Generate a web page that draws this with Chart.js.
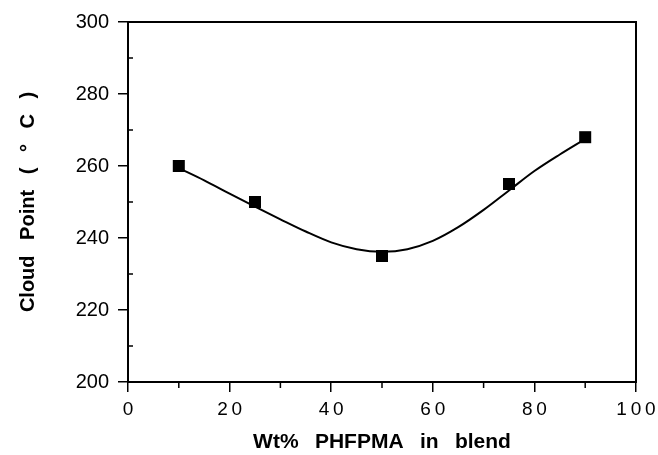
<!DOCTYPE html>
<html>
<head>
<meta charset="utf-8">
<script src="https://cdn.jsdelivr.net/npm/chart.js@4/dist/chart.umd.min.js"></script>
<style>
  html, body { margin: 0; padding: 0; background: #fff; }
  #wrap { width: 658px; height: 455px; }
</style>
</head>
<body>
<div id="wrap"><canvas id="cloudChart"></canvas></div>
<script>
// measured cloud points
const wtPct = [10, 25, 50, 75, 90];
const cloudPt = [260, 250, 235, 255, 268];

// smooth fitted curve
const curveX = [10, 15, 20, 25, 30, 35, 40, 45, 50, 55, 60, 65, 70, 75, 80, 85, 90];
const curveY = [259.4, 256.0, 252.3, 248.7, 245.2, 241.8, 238.8, 236.9, 236.2, 236.9, 239.2, 243.0, 247.8, 253.2, 258.6, 263.2, 267.5];

const xTicks = [0, 20, 40, 60, 80, 100];
const yTicks = [200, 220, 240, 260, 280, 300];

const FONT = '"Liberation Sans", Arial, Helvetica, sans-serif';

// frame + minor ticks, placed through the scales
const framePlugin = {
  id: 'frame',
  afterDraw(chart) {
    const { ctx, chartArea: a, scales } = chart;
    ctx.save();
    ctx.strokeStyle = '#000';
    ctx.lineWidth = 2;
    ctx.strokeRect(a.left, a.top, a.right - a.left, a.bottom - a.top);
    ctx.lineWidth = 1.5;
    ctx.beginPath();
    for (let v = 210; v < 300; v += 20) {
      const y = scales.y.getPixelForValue(v);
      ctx.moveTo(a.left, y);
      ctx.lineTo(a.left + 5, y);
    }
    for (let v = 10; v < 100; v += 20) {
      const x = scales.x.getPixelForValue(v);
      ctx.moveTo(x, a.bottom);
      ctx.lineTo(x, a.bottom + 6);
    }
    ctx.stroke();
    ctx.restore();
  }
};

new Chart(document.getElementById('cloudChart'), {
  type: 'scatter',
  data: {
    datasets: [
      {
        label: 'fit',
        data: curveX.map((x, i) => ({ x: x, y: curveY[i] })),
        showLine: true,
        cubicInterpolationMode: 'monotone',
        borderColor: '#000',
        borderWidth: 2,
        pointRadius: 0,
        order: 2
      },
      {
        label: 'Cloud point',
        data: wtPct.map((x, i) => ({ x: x, y: cloudPt[i] })),
        pointStyle: 'rect',
        pointRadius: 8.5,
        pointHoverRadius: 8.5,
        backgroundColor: '#000',
        borderColor: '#000',
        borderWidth: 0,
        order: 1
      }
    ]
  },
  options: {
    responsive: true,
    maintainAspectRatio: false,
    animation: false,
    layout: { padding: { top: 22, right: 22, left: 0, bottom: 0 } },
    plugins: {
      legend: { display: false },
      tooltip: { enabled: false }
    },
    scales: {
      x: {
        type: 'linear',
        min: 0,
        max: 100,
        afterBuildTicks: s => { s.ticks = xTicks.map(v => ({ value: v })); },
        afterFit: s => { s.height = 73; s.paddingRight = 0; s.paddingLeft = 0; },
        border: { color: '#000', width: 2 },
        grid: { drawOnChartArea: false, color: '#000', lineWidth: 1.5, tickLength: 10 },
        ticks: {
          color: '#000',
          padding: 6,
          font: { family: FONT, size: 19 },
          callback: v => String(v).split('').join('\u2009')
        },
        title: {
          display: true,
          text: 'Wt%\u2002 PHFPMA\u2002 in\u2002 blend',
          color: '#000',
          font: { family: FONT, size: 21, weight: 'bold' },
          padding: { top: 9, bottom: 0 }
        }
      },
      y: {
        type: 'linear',
        min: 200,
        max: 300,
        afterBuildTicks: s => { s.ticks = yTicks.map(v => ({ value: v })); },
        afterFit: s => { s.width = 128; },
        border: { color: '#000', width: 2 },
        grid: { drawOnChartArea: false, color: '#000', lineWidth: 1.5, tickLength: 10 },
        ticks: {
          color: '#000',
          padding: 9,
          font: { family: FONT, size: 20 }
        },
        title: {
          display: true,
          text: 'Cloud\u2002 Point\u2002 (\u2002 \u00B0\u2002 C\u2002 )',
          color: '#000',
          font: { family: FONT, size: 20, weight: 'bold' },
          padding: { top: 16, bottom: 0 }
        }
      }
    }
  },
  plugins: [framePlugin]
});
</script>
</body>
</html>
